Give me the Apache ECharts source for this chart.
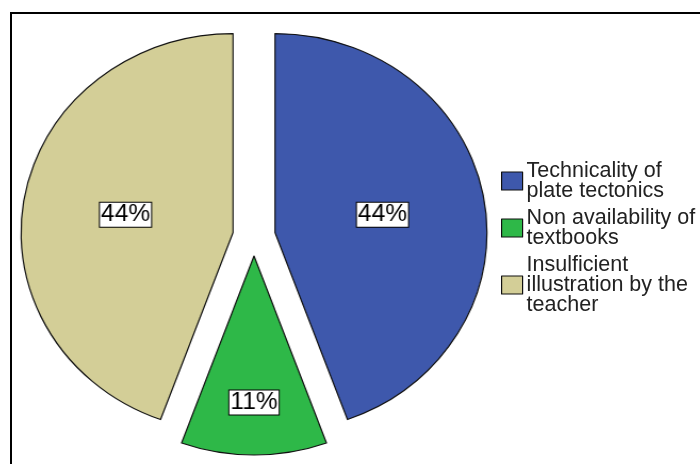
<!DOCTYPE html>
<html>
<head>
<meta charset="utf-8">
<script src="https://cdn.jsdelivr.net/npm/echarts@6/dist/echarts.min.js"></script>
<style>
  html, body { margin: 0; padding: 0; background: #fff; }
  #wrap { position: relative; width: 700px; height: 464px; overflow: hidden; }
  #pie, #side { position: absolute; left: 0; top: 0; width: 700px; height: 464px; }
  /* the pie is drawn slightly wider than tall */
  #pie { transform: scaleX(1.065); transform-origin: 254px 0; }
</style>
</head>
<body>
<div id="wrap">
  <div id="pie"></div>
  <div id="side"></div>
</div>
<script>
// Reasons students give for difficulty (percent of respondents)
const categories = [
  'Technicality of\nplate tectonics',
  'Non availability of\ntextbooks',
  'Insulficient\nillustration by the\nteacher'
];
const percents = [44, 11, 44];
const colors = ['#3E58AC', '#2EB848', '#D3CE97'];

const FONT = '"Liberation Sans", Arial, sans-serif';

const pieData = categories.map((name, i) => ({
  name: name,
  value: percents[i],
  selected: true,
  itemStyle: { color: colors[i] }
}));

// Exploded pie with boxed percentage labels
const pieChart = echarts.init(document.getElementById('pie'), null, { renderer: 'canvas' });
pieChart.setOption({
  animation: false,
  series: [{
    type: 'pie',
    center: [254, 236],
    radius: [0, 199],
    startAngle: 90,
    clockwise: true,
    selectedMode: 'multiple',
    selectedOffset: 20,
    avoidLabelOverlap: false,
    itemStyle: { borderColor: '#111', borderWidth: 1.2 },
    emphasis: { disabled: true },
    select: { disabled: false },
    label: {
      show: true,
      position: 'inside',
      formatter: p => p.value + '%',
      fontFamily: FONT,
      fontSize: 23,
      lineHeight: 23,
      color: '#000',
      backgroundColor: '#fff',
      borderColor: '#000',
      borderWidth: 1,
      padding: [1, 1, 0, 1]
    },
    labelLine: { show: false },
    // the small slice carries its label further out toward the rim
    labelLayout: p => (p.dataIndex === 1 ? { dy: 44 } : {}),
    data: pieData
  }]
});

// Legend and outer frame, drawn unscaled so the text keeps its shape
const sideChart = echarts.init(document.getElementById('side'), null, { renderer: 'canvas' });
sideChart.setOption({
  animation: false,
  graphic: [{
    type: 'rect',
    shape: { x: 11, y: 13, width: 720, height: 480 },
    style: { fill: 'none', stroke: '#000', lineWidth: 2 },
    silent: true
  }],
  legend: {
    orient: 'vertical',
    left: 501,
    top: 160,
    padding: 0,
    itemWidth: 21,
    itemHeight: 18,
    itemGap: 5,
    selectedMode: false,
    icon: 'rect',
    itemStyle: { borderColor: '#111', borderWidth: 1.2 },
    textStyle: {
      fontFamily: FONT,
      fontSize: 21.5,
      lineHeight: 20,
      color: '#222',
      padding: [0, 0, 0, -1]
    },
    data: categories
  },
  series: [{
    type: 'pie',
    radius: [0, 0],
    silent: true,
    label: { show: false },
    labelLine: { show: false },
    data: categories.map((name, i) => ({
      name: name,
      value: percents[i],
      itemStyle: { color: colors[i] }
    }))
  }]
});
</script>
</body>
</html>
